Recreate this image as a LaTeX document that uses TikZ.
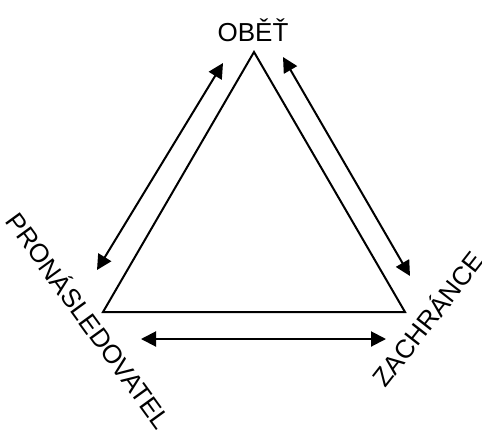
\documentclass[tikz,border=0pt]{standalone}
\usepackage{fontspec}
\setmainfont{Liberation Sans}
\usetikzlibrary{arrows.meta}
\begin{document}
\begin{tikzpicture}[x=1pt,y=-1pt,
  edge/.style={line width=2pt,line join=miter},
  dblarrow/.style={line width=2pt,{Triangle[length=15pt,width=15pt]}-{Triangle[length=15pt,width=15pt]}},
  lab/.style={font=\fontsize{26}{30}\selectfont,inner sep=0pt}]
\useasboundingbox (0,0) rectangle (482,432);
\coordinate (T) at (254,52);
\coordinate (L) at (103,312);
\coordinate (R) at (405,312);
\draw[edge] (T) -- (L) -- (R) -- cycle;
\coordinate (a1) at (223,63);
\coordinate (a2) at (97,270);
\coordinate (b1) at (283,57);
\coordinate (b2) at (410,276);
\coordinate (c1) at (141,339);
\coordinate (c2) at (386,339);
\draw[dblarrow] (a1) -- (a2);
\draw[dblarrow] (b1) -- (b2);
\draw[dblarrow] (c1) -- (c2);
\node[lab] (obet) at (253,30) {OBĚŤ};
\node[lab,rotate=-54] (pron) at (90,320) {PRONÁSLEDOVATEL};
\node[lab,rotate=52] (zach) at (427,318) {ZACHRÁNCE};
\end{tikzpicture}
\end{document}
